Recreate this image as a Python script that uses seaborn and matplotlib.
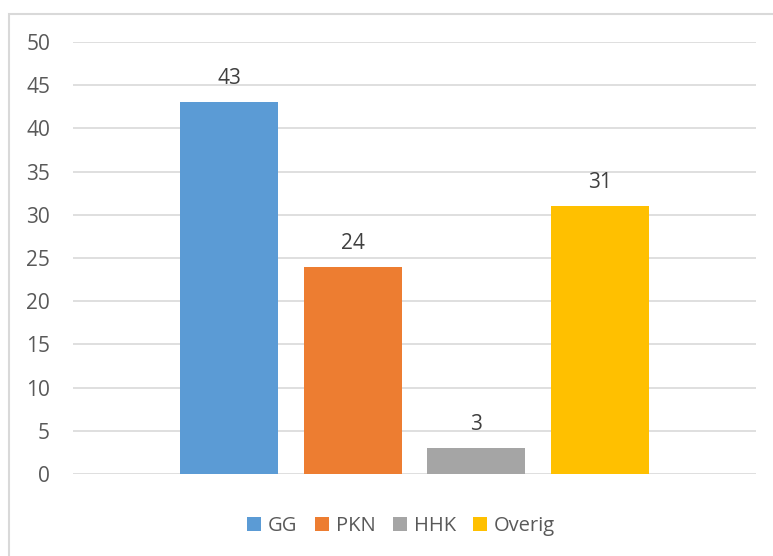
import matplotlib
matplotlib.use("Agg")
import matplotlib.pyplot as plt
import seaborn as sns
import pandas as pd
from matplotlib.patches import Rectangle

series = ["GG", "PKN", "HHK", "Overig"]
values = [43, 24, 3, 31]
colors = ["#5B9BD5", "#ED7D31", "#A5A5A5", "#FFC000"]
yticks = [0, 5, 10, 15, 20, 25, 30, 35, 40, 45, 50]

sns.set_style("white")
plt.rcParams["font.family"] = ["Open Sans", "DejaVu Sans"]

df = pd.DataFrame({"cat": ["x"] * len(series), "series": series, "value": values})

fig = plt.figure(figsize=(7.73, 5.56), dpi=100)
ax = fig.add_axes([73 / 773, 1 - 474 / 556, (756 - 73) / 773, (474 - 42) / 556])

sns.barplot(data=df, x="cat", y="value", hue="series", hue_order=series,
            palette=colors, width=0.8, gap=0.206, saturation=1, ax=ax,
            legend=True, errorbar=None, linewidth=0, edgecolor="none")

ax.set_xlim(-0.553, 0.553)
ax.set_ylim(0, 50)
ax.set_yticks(yticks)
ax.set_yticklabels([str(t) for t in yticks], fontsize=15, color="#595959")
ax.set_xticks([])
ax.set_xlabel("")
ax.set_ylabel("")
ax.yaxis.grid(True, color="#D9D9D9", linewidth=1.2)
ax.set_axisbelow(True)
ax.tick_params(axis="y", length=0, pad=16.5)
for s in ax.spines.values():
    s.set_visible(False)

for cont in ax.containers:
    for bar, v in zip(cont, cont.datavalues):
        ax.annotate(f"{int(v)}", (bar.get_x() + bar.get_width() / 2, bar.get_height()),
                    xytext=(0, 17), textcoords="offset points", ha="center", va="center",
                    fontsize=15, color="#404040")

leg = fig.legend(*ax.get_legend_handles_labels(), loc="center",
                 bbox_to_anchor=(401 / 773, 1 - 526 / 556),
                 ncol=4, frameon=False, fontsize=14.5, handlelength=0.7, handleheight=0.7,
                 handletextpad=0.35, columnspacing=0.85)
ax.get_legend().remove()
for t in leg.get_texts():
    t.set_color("#595959")

fig.patches.append(Rectangle((9 / 773, -0.1), 1.2, 1 - 14 / 556 + 0.1,
                             transform=fig.transFigure, fill=False,
                             edgecolor="#D9D9D9", linewidth=1.5))

fig.savefig("out.png", dpi=100)
